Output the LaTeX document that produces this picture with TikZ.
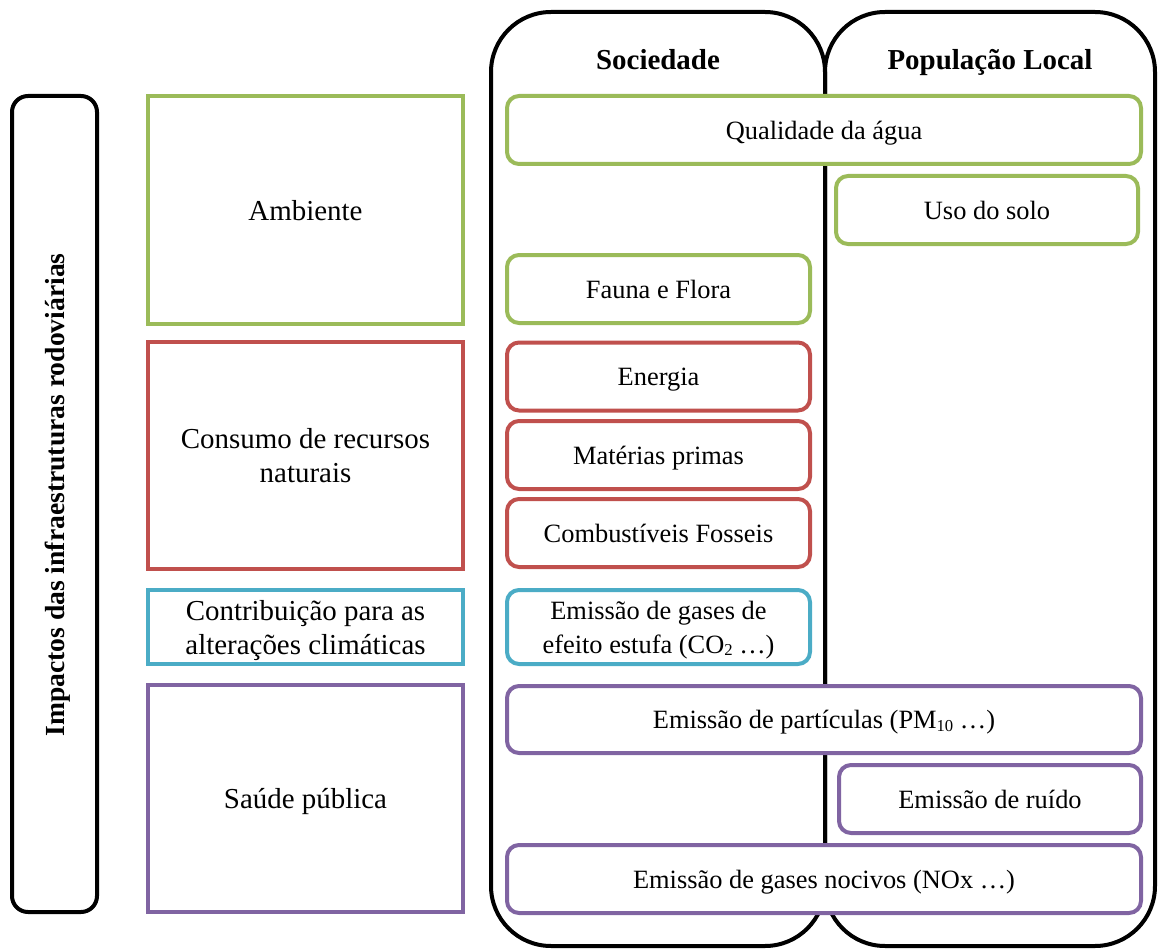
\documentclass[tikz,border=0pt]{standalone}
\usepackage{fontspec}
\setmainfont{Liberation Serif}
\definecolor{verde}{HTML}{9BBB59}
\definecolor{vermelho}{HTML}{C0504D}
\definecolor{azul}{HTML}{4BACC6}
\definecolor{roxo}{HTML}{8064A2}
\newcommand{\indice}[1]{\raisebox{-0.1em}{\fontsize{12.5}{12.5}\selectfont #1}}
\begin{document}
\begin{tikzpicture}[x=0.75pt, y=-0.75pt,
    item/.style={draw=#1, fill=white, line width=3pt, rounded corners=9pt, align=center, inner sep=0pt, text depth=-0.2em, font=\fontsize{19.8}{25.5}\selectfont},
    categ/.style={draw=#1, line width=3pt, align=center, inner sep=0pt, text depth=-0.12em, font=\fontsize{21.7}{25.5}\selectfont},
    duas/.style={text depth=0pt},
    painel/.style={draw, line width=3pt, rounded corners=45pt},
    titulo/.style={font=\bfseries\fontsize{21.7}{26}\selectfont},
    sz/.style 2 args={minimum width=#1*0.75pt, minimum height=#2*0.75pt}]
    \useasboundingbox (0,0) rectangle (1158,949);
    % colunas
    \node[painel, sz={334}{934}] (soc) at (658,479) {};
    \node[painel, sz={330}{934}] (pop) at (990,479) {};
    \node[titulo, anchor=base] (tsoc) at (658,70) {Sociedade};
    \node[titulo, anchor=base] (tpop) at (990,70) {População Local};
    % eixo vertical
    \node[painel, rounded corners=12pt, sz={85}{816}] (eixo) at (54.5,504) {};
    \node[titulo, font=\bfseries\fontsize{20.7}{25}\selectfont, rotate=90] (tit) at (58,495) {Impactos das infraestruturas rodoviárias};
    % categorias
    \node[categ=verde, sz={315}{228}] (amb) at (305.5,210) {Ambiente};
    \node[categ=vermelho, duas, sz={315}{227}] (cons) at (305.5,455.5) {Consumo de recursos\\naturais};
    \node[categ=azul, duas, sz={315}{74}] (clima) at (305.5,627) {Contribuição para as\\alterações climáticas};
    \node[categ=roxo, sz={315}{227}] (saude) at (305.5,798.5) {Saúde pública};
    % impactos
    \node[item=verde, sz={634}{68}] (agua) at (824,130) {Qualidade da água};
    \node[item=verde, sz={302}{68}] (solo) at (987,210) {Uso do solo};
    \node[item=verde, sz={303}{68}] (fauna) at (658.5,289) {Fauna e Flora};
    \foreach \nome/\txt/\y in {ener/Energia/376.5, mat/Matérias primas/455, comb/Combustíveis Fosseis/533}
      \node[item=vermelho, sz={303}{68}] (\nome) at (658.5,\y) {\txt};
    \node[item=azul, duas, sz={303}{74}] (gee) at (658.5,627) {Emissão de gases de\\efeito estufa (CO\indice{2} …)};
    \node[item=roxo, sz={634}{67}] (part) at (824,719.5) {Emissão de partículas (PM\indice{10} …)};
    \node[item=roxo, sz={302}{68}] (ruido) at (990,799) {Emissão de ruído};
    \node[item=roxo, sz={634}{68}] (nociv) at (824,879) {Emissão de gases nocivos (NOx …)};
\end{tikzpicture}
\end{document}
